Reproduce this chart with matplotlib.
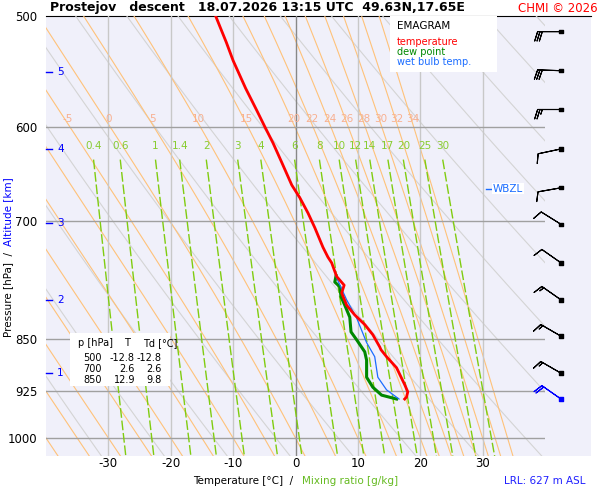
import numpy as np
import matplotlib
matplotlib.use("Agg")
import matplotlib.pyplot as plt
plt.rcParams["axes.unicode_minus"] = False

# ---- data ----
temp_p = [500, 509, 522, 538, 563, 584, 600, 616, 636, 660, 674, 691, 708, 731, 743, 750, 767, 778, 788, 804, 817, 830, 844, 861, 865, 875, 891, 916, 927, 935, 938]
temp_T = [-12.8, -12.1, -11.1, -10.0, -8.0, -6.2, -4.9, -3.6, -2.2, -0.6, 0.7, 2.0, 3.1, 4.4, 5.2, 5.8, 6.6, 7.8, 7.4, 8.2, 9.5, 11.1, 12.4, 13.5, 13.7, 14.6, 16.2, 17.5, 18.0, 17.8, 17.5]
dew_p = [766, 774, 780, 793, 804, 820, 840, 851, 868, 880, 905, 920, 932, 938]
dew_T = [6.5, 6.3, 7.1, 7.3, 7.9, 8.7, 8.9, 9.8, 11.1, 11.4, 11.4, 12.4, 13.8, 16.2]
wb_p = [767, 797, 821, 855, 875, 905, 924, 938]
wb_T = [6.5, 8.2, 9.8, 11.4, 12.7, 13.2, 14.6, 16.6]
wind_p = [513, 547, 583, 622, 663, 704, 750, 797, 846, 899, 938]
wind_dir = [270, 272, 270, 258, 260, 302, 305, 305, 300, 300, 305]
wind_kt = [30, 30, 25, 10, 8, 10, 10, 15, 15, 15, 20]
alt_km = [1, 2, 3, 4, 5]
alt_p = [899, 797, 702, 622, 548]
p_ticks = [500, 600, 700, 850, 925, 1000]
t_ticks = [-30, -20, -10, 0, 10, 20, 30]
moist_labels = [-5, 0, 5, 10, 15, 20, 22, 24, 26, 28, 30, 32, 34]
moist_extra = [-40, -35, -30, -25, -20, -15, -10]
mix_labels = [0.4, 0.6, 1, 1.4, 2, 3, 4, 6, 8, 10, 12, 14, 17, 20, 25, 30]
table_rows = [("500", "-12.8", "-12.8"), ("700", "2.6", "2.6"), ("850", "12.9", "9.8")]

BG = "#f0f0fa"
PMIN, PMAX = 500, 1030

def es(T):
    return 6.112 * np.exp(17.67 * T / (T + 243.5))

def moist(thw, p):
    Rd, cp, Lv, eps = 287.0, 1005.0, 2.5e6, 0.622
    def dTdp(T, pp):
        Tk = T + 273.15
        rs = eps * es(T) / (pp - es(T))
        return (Rd * Tk + Lv * rs) / (pp * (cp + Lv**2 * rs * eps / (Rd * Tk**2)))
    ps = [1000.0]; Ts = [thw]
    T = thw; q = 1000.0
    while q > PMIN - 5:
        T -= dTdp(T, q) * 1.0; q -= 1.0; ps.append(q); Ts.append(T)
    T = thw; q = 1000.0
    while q < PMAX + 5:
        T += dTdp(T, q) * 1.0; q += 1.0; ps.append(q); Ts.append(T)
    ps = np.array(ps); Ts = np.array(Ts); o = np.argsort(ps)
    return np.interp(p, ps[o], Ts[o])

fig = plt.figure(figsize=(6, 5), dpi=100)
fig.patch.set_facecolor("white")
bg = fig.add_axes([46/600, 1-456/500, (591-46)/600, 440/500], zorder=-1)
bg.set_facecolor(BG); bg.set_xticks([]); bg.set_yticks([])
for s in bg.spines.values():
    s.set_visible(False)
bg.spines["top"].set_visible(True)

ax = fig.add_axes([46/600, 1-456/500, 499/600, 440/500])
ax.set_facecolor("none")
ax.set_yscale("log")
ax.set_ylim(PMAX, PMIN)
ax.set_xlim(-40, 40)
for s in ax.spines.values():
    s.set_visible(False)

pp = np.linspace(PMIN, PMAX, 300)
for th in range(240, 440, 10):
    ax.plot(th * (pp/1000)**0.2857 - 273.15, pp, color="#d4d4d4", lw=0.8, zorder=1)
for thw in moist_extra + moist_labels:
    T = moist(thw, pp)
    ax.plot(T, pp, color="#ffc27a", lw=0.8, zorder=1)
    if thw in moist_labels:
        tl = moist(thw, np.array([597.0]))[0]
        ax.text(tl, 597, str(thw), color="#f8b090", fontsize=7.5, ha="center", va="bottom", zorder=3)
pm = np.linspace(633, PMAX, 100)
for w in mix_labels:
    e = w/1000 * pm / (0.622 + w/1000)
    l = np.log(e/6.112); Td = 243.5*l/(17.67-l)
    ax.plot(Td, pm, color="#80cc10", lw=1, ls=(0, (7, 2)), zorder=2)
    e0 = w/1000*633/(0.622+w/1000); l0 = np.log(e0/6.112)
    ax.text(243.5*l0/(17.67-l0), 624, f"{w:g}", color="#88cc30", fontsize=7.5, ha="center", va="bottom", zorder=3)
for t in t_ticks:
    ax.axvline(t, color="#888888" if t == 0 else "#c8c8c8", lw=1, zorder=1.5)
for p in p_ticks[1:]:
    ax.axhline(p, color="#a0a0a0", lw=1, zorder=1.5)
ax.set_yticks(p_ticks); ax.set_yticklabels([str(p) for p in p_ticks])
ax.yaxis.set_minor_locator(matplotlib.ticker.NullLocator())
ax.yaxis.set_minor_formatter(matplotlib.ticker.NullFormatter())
ax.set_xticks(t_ticks)
ax.tick_params(length=0, labelsize=8.5)
ax.tick_params(axis="x", pad=1)
ax.tick_params(axis="y", pad=6)
for km, p in zip(alt_km, alt_p):
    ax.plot([-40, -39], [p, p], color="blue", lw=1, clip_on=False)
    ax.text(-38.2, p, str(km), color="blue", fontsize=7.5, va="center")
ax.plot(dew_T, dew_p, color="#008800", lw=2.2, zorder=5)
ax.plot(wb_T, wb_p, color="#1a6cff", lw=0.9, zorder=6)
ax.plot(temp_T, temp_p, color="red", lw=2, zorder=7)

ax.plot([30.5, 31.5], [664, 664], color="#1a6cff", lw=1, zorder=8)
ax.text(31.6, 664, "WBZL", color="#1a6cff", fontsize=7.5, va="center", zorder=8,
        bbox=dict(facecolor="white", edgecolor="none", pad=0.5))
ff = fig.transFigure
ax.add_patch(plt.Rectangle((390/600, 1-72/500), 107/600, 56/500, transform=ff,
                           facecolor="white", edgecolor="none", zorder=9, clip_on=False))
ax.text(397/600, 1-26/500, "EMAGRAM", transform=ff, fontsize=7.5, va="center", zorder=10)
ax.text(397/600, 1-42/500, "temperature", color="red", transform=ff, fontsize=7, va="center", zorder=10)
ax.text(397/600, 1-52/500, "dew point", color="#008800", transform=ff, fontsize=7, va="center", zorder=10)
ax.text(397/600, 1-62/500, "wet bulb temp.", color="#1a6cff", transform=ff, fontsize=7, va="center", zorder=10)

ax.add_patch(plt.Rectangle((70/600, 1-386/500), 100/600, 53/500, transform=ff,
                           facecolor="white", edgecolor="none", zorder=9, clip_on=False))
ax.text(78/600, 1-343/500, "p [hPa]", transform=ff, fontsize=7, va="center", zorder=10)
ax.text(127/600, 1-343/500, "T", transform=ff, fontsize=7, va="center", ha="center", zorder=10)
ax.text(143/600, 1-343/500, "Td [°C]", transform=ff, fontsize=7, va="center", zorder=10)
for i, (a, b, c) in enumerate(table_rows):
    y = 1-(358+i*11)/500
    ax.text(102/600, y, a, transform=ff, fontsize=7, ha="right", va="center", zorder=10)
    ax.text(135/600, y, b, transform=ff, fontsize=7, ha="right", va="center", zorder=10)
    ax.text(162/600, y, c, transform=ff, fontsize=7, ha="right", va="center", zorder=10)

axw = fig.add_axes([500/600, 1-456/500, 91/600, 440/500])
axw.set_yscale("log"); axw.set_ylim(PMAX, PMIN); axw.set_xlim(0, 91); axw.axis("off")
d = np.radians(wind_dir); s = np.array(wind_kt, float)
u = -s*np.sin(d); v = -s*np.cos(d)
cols = ["black"]*(len(wind_p)-1) + ["blue"]
axw.barbs([61]*len(wind_p), wind_p, u, v, color=cols, length=5.8, linewidth=0.8, pivot="tip",
          flip_barb=True, sizes=dict(emptybarb=0.0, height=0.4, spacing=0.1))
axw.scatter([61]*len(wind_p), wind_p, s=6, c=cols, marker="s", zorder=5)

fig.text(50/600, 1-8/500, "Prostejov   descent   18.07.2026 13:15 UTC  49.63N,17.65E", fontsize=9,
         fontweight="bold", va="center")
fig.text(598/600, 1-8/500, "CHMI © 2026", color="red", fontsize=8.5, va="center", ha="right")
fig.text(293/600, 1-481/500, "Temperature [°C]  /", fontsize=7.5, ha="right", va="center")
fig.text(302/600, 1-481/500, "Mixing ratio [g/kg]", color="#66bb22", fontsize=7.5, ha="left", va="center")
fig.text(8/600, 1-252/500, "Pressure [hPa]  /", fontsize=7.5, ha="center", va="top", rotation=90)
fig.text(8/600, 1-246/500, "Altitude [km]", color="blue", fontsize=7.5, ha="center", va="bottom", rotation=90)
fig.text(585/600, 1-481/500, "LRL: 627 m ASL", color="#2020ff", fontsize=7.5, ha="right", va="center")

fig.savefig("out.png", dpi=100)
